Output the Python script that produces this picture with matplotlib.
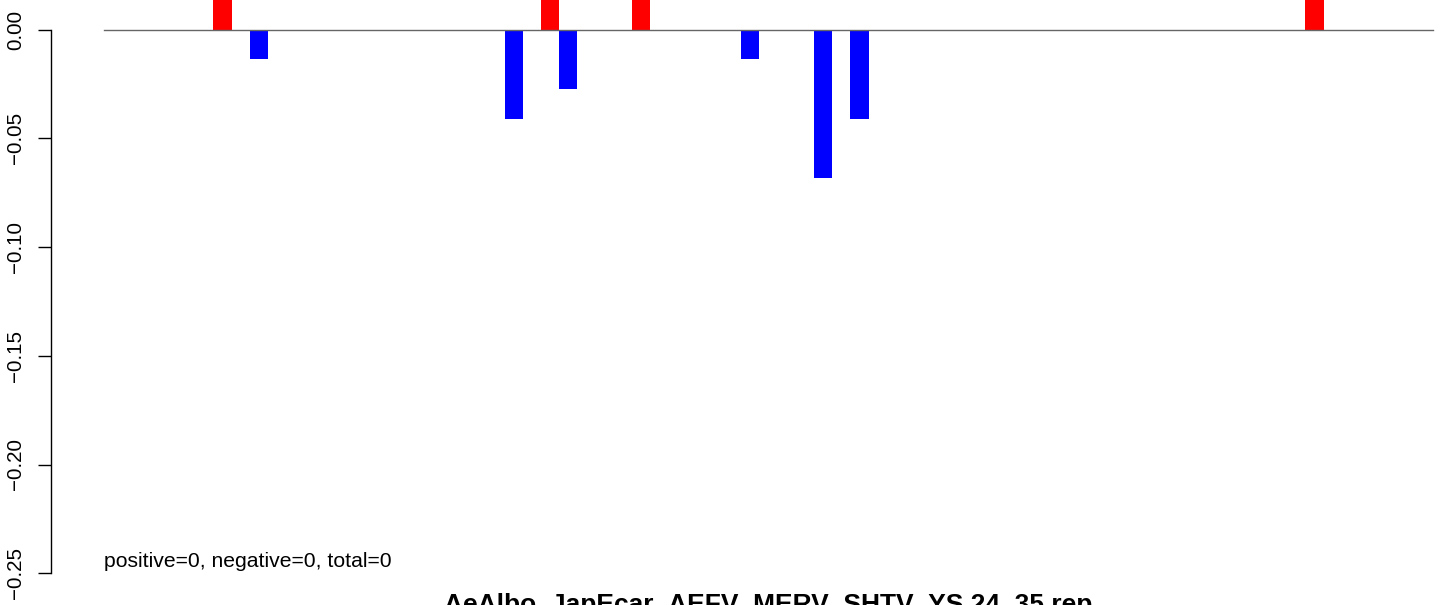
import matplotlib
matplotlib.use("Agg")
import matplotlib.pyplot as plt
import numpy as np

plt.rcParams['font.family'] = ['Liberation Sans', 'DejaVu Sans']

# one value per bar (73 bars, drawn edge to edge like an R barplot with space=0)
values = [
    0, 0, 0, 0, 0, 0, 0.0137, 0, -0.0137, 0,
    0, 0, 0, 0, 0, 0, 0, 0, 0, 0,
    0, 0, -0.0411, 0, 0.0137, -0.0274, 0, 0, 0, 0.0137,
    0, 0, 0, 0, 0, -0.0137, 0, 0, 0, -0.0685,
    0, -0.0411, 0, 0, 0, 0, 0, 0, 0, 0,
    0, 0, 0, 0, 0, 0, 0, 0, 0, 0,
    0, 0, 0, 0, 0, 0, 0.0137, 0, 0, 0,
    0, 0, 0,
]
y_ticks = [0.00, -0.05, -0.10, -0.15, -0.20, -0.25]
title = "AeAlbo_JapEcar_AEFV_MERV_SHTV_YS 24_35 rep"
note = "positive=0, negative=0, total=0"

W, H = 1444, 605
fig = plt.figure(figsize=(W / 100, H / 100), dpi=100)
# plot region runs past the right edge of the picture (the reference is cropped)
ax = fig.add_axes([51 / W, 0, 1435 / W, 1])

n = len(values)
x = np.arange(n)
colors = ['red' if v > 0 else 'blue' for v in values]
ax.bar(x, values, width=1, align='edge', color=colors, linewidth=0)
ax.plot([0, n], [0, 0], color='#666666', linewidth=1.0, zorder=3)

pad_x = 0.04 * n
ax.set_xlim(-pad_x, n + pad_x)
ax.set_ylim(-(H - 29.5) / 2175, 29.5 / 2175)

for s in ['top', 'right', 'bottom']:
    ax.spines[s].set_visible(False)
ax.spines['left'].set_bounds(min(y_ticks), max(y_ticks))
ax.spines['left'].set_linewidth(1.0)
ax.set_xticks([])
ax.set_yticks(y_ticks)
labels = [('%.2f' % t).replace('-', '\u2212') for t in y_ticks]
ax.set_yticklabels(labels, rotation=90, va='center', fontsize=14.8)
ax.tick_params(axis='y', length=9.5, width=1.0, pad=9)

ax.text(0, -0.2471, note, fontsize=15.2, ha='left', va='baseline')
fig.text(768.5 / W, -7 / H, title, fontsize=19, fontweight='bold',
         ha='center', va='baseline')

fig.savefig('out.png', dpi=100)
